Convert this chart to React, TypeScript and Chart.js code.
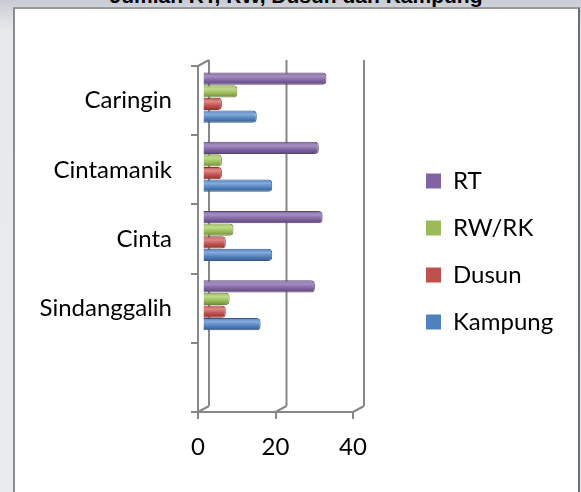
import React, { useEffect, useRef } from 'react';
import { Chart, registerables } from 'chart.js';

Chart.register(...registerables);

const categories = ['Caringin', 'Cintamanik', 'Cinta', 'Sindanggalih', ''];
const seriesNames = ['RT', 'RW/RK', 'Dusun', 'Kampung'];
const rtValues = [32, 30, 31, 29, null];
const rwValues = [9, 5, 8, 7, null];
const dusunValues = [5, 5, 6, 6, null];
const kampungValues = [14, 18, 18, 15, null];
const xTickValues = [0, 20, 40];
const titleText = 'Jumlah RT, RW, Dusun dan Kampung';

const baseColors = ['#8064A2', '#9BBB59', '#C0504D', '#4F81BD'];
const lightColors = ['#a48fc0', '#c0d98e', '#dc8a87', '#86aadb'];
const darkColors = ['#5a4674', '#6f883c', '#8b3533', '#37598a'];

const DX = 11;
const DY = -6;
const FONT = 'Lato';

const wallPlugin = {
  id: 'wall3d',
  beforeDraw(chart: any) {
    const lg = chart.legend;
    if (lg) {
      const pad = 23;
      lg.left = 426 - pad;
      lg.right = 578;
      lg.width = lg.right - lg.left;
      lg.top = 181 - 12 - pad;
      lg.bottom = 480;
      lg.height = lg.bottom - lg.top;
    }
  },
  beforeDatasetsDraw(chart: any) {
    const { ctx, chartArea: a, scales } = chart;
    const x = scales.x;
    ctx.save();
    ctx.strokeStyle = '#878787';
    ctx.lineWidth = 2;
    ctx.beginPath();
    for (const v of xTickValues) {
      const px = x.getPixelForValue(v);
      ctx.moveTo(px + DX, a.top + DY);
      ctx.lineTo(px + DX, a.bottom + DY);
      ctx.moveTo(px, a.bottom);
      ctx.lineTo(px + DX, a.bottom + DY);
    }
    ctx.moveTo(a.left, a.top);
    ctx.lineTo(a.left + DX, a.top + DY);
    ctx.stroke();
    ctx.restore();
    ctx.save();
    ctx.translate(4.5, -3);
  },
  afterDatasetsDraw(chart: any) {
    chart.ctx.restore();
  },
};

function makeBg(i: number) {
  return (c: any) => {
    const el = c.element;
    if (!el || !isFinite(el.y) || !isFinite(el.height) || !el.height) return baseColors[i];
    const top = el.y - el.height / 2;
    const bot = el.y + el.height / 2;
    const g = c.chart.ctx.createLinearGradient(0, top, 0, bot);
    g.addColorStop(0, baseColors[i]);
    g.addColorStop(0.3, lightColors[i]);
    g.addColorStop(0.65, baseColors[i]);
    g.addColorStop(1, darkColors[i]);
    return g;
  };
}

export default function App() {
  const ref = useRef<HTMLCanvasElement | null>(null);
  useEffect(() => {
    if (!ref.current) return;
    const seriesValues = [rtValues, rwValues, dusunValues, kampungValues];
    const chart = new Chart(ref.current, {
      type: 'bar',
      data: {
        labels: categories,
        datasets: seriesNames.map((name, i) => ({
          label: name,
          data: seriesValues[i],
          backgroundColor: makeBg(i),
          borderColor: darkColors[i],
          borderWidth: 1,
          borderSkipped: 'start',
          borderRadius: 4,
          categoryPercentage: 0.73,
          barPercentage: 0.97,
        })),
      },
      options: {
        indexAxis: 'y',
        animation: false,
        responsive: false,
        devicePixelRatio: 1,
        layout: { padding: { top: 66, right: 128, bottom: 0, left: 0 } },
        plugins: {
          tooltip: { enabled: false },
          title: { display: false },
          legend: {
            display: true,
            position: 'right',
            align: 'start',
            maxWidth: 100,
            labels: {
              boxWidth: 15,
              boxHeight: 15,
              padding: 23,
              color: '#000',
              font: { family: FONT, size: 24 },
              generateLabels: (ch: any) =>
                ch.data.datasets.map((d: any, i: number) => ({
                  text: d.label,
                  fillStyle: baseColors[i],
                  strokeStyle: baseColors[i],
                  lineWidth: 0,
                  hidden: false,
                  datasetIndex: i,
                })),
            },
          },
        },
        scales: {
          x: {
            min: 0,
            max: 40,
            afterFit: (s: any) => {
              s.height = 80;
            },
            ticks: {
              stepSize: 20,
              color: '#000',
              padding: 14,
              font: { family: FONT, size: 24 },
            },
            grid: {
              drawOnChartArea: false,
              drawTicks: true,
              tickLength: 7,
              color: '#878787',
              lineWidth: 2,
            },
            border: { display: true, color: '#878787', width: 2 },
          },
          y: {
            afterFit: (s: any) => {
              s.width = 198;
            },
            ticks: {
              color: '#000',
              padding: 19,
              font: { family: FONT, size: 24 },
            },
            grid: {
              offset: true,
              drawOnChartArea: false,
              drawTicks: true,
              tickLength: 7,
              color: '#878787',
              lineWidth: 2,
            },
            border: { display: true, color: '#878787', width: 2 },
          },
        },
      },
      plugins: [wallPlugin],
    } as any);
    chart.update();
    return () => chart.destroy();
  }, []);

  return (
    <div
      style={{
        position: 'fixed',
        left: 0,
        top: 0,
        width: 581,
        height: 492,
        overflow: 'hidden',
        background: 'linear-gradient(#c9ccd4, #e8e9ed 30px, #eaebef)',
      }}
    >
      <div
        style={{
          position: 'absolute',
          left: 13,
          top: 7,
          width: 563,
          height: 500,
          background: '#fff',
          borderLeft: '2px solid #8c8c8c',
          borderTop: '2px solid #9a9a9a',
          borderRight: '2px solid #6e6e6e',
        }}
      />
      <div
        style={{
          position: 'absolute',
          left: 0,
          width: 592,
          top: -15,
          textAlign: 'center',
          fontFamily: 'Liberation Sans, Arial, sans-serif',
          fontWeight: 'bold',
          fontSize: 21,
          lineHeight: '21px',
          color: '#000',
        }}
      >
        {titleText}
      </div>
      <canvas
        ref={ref}
        width={581}
        height={492}
        style={{ position: 'absolute', left: 0, top: 0, width: 581, height: 492 }}
      />
    </div>
  );
}
